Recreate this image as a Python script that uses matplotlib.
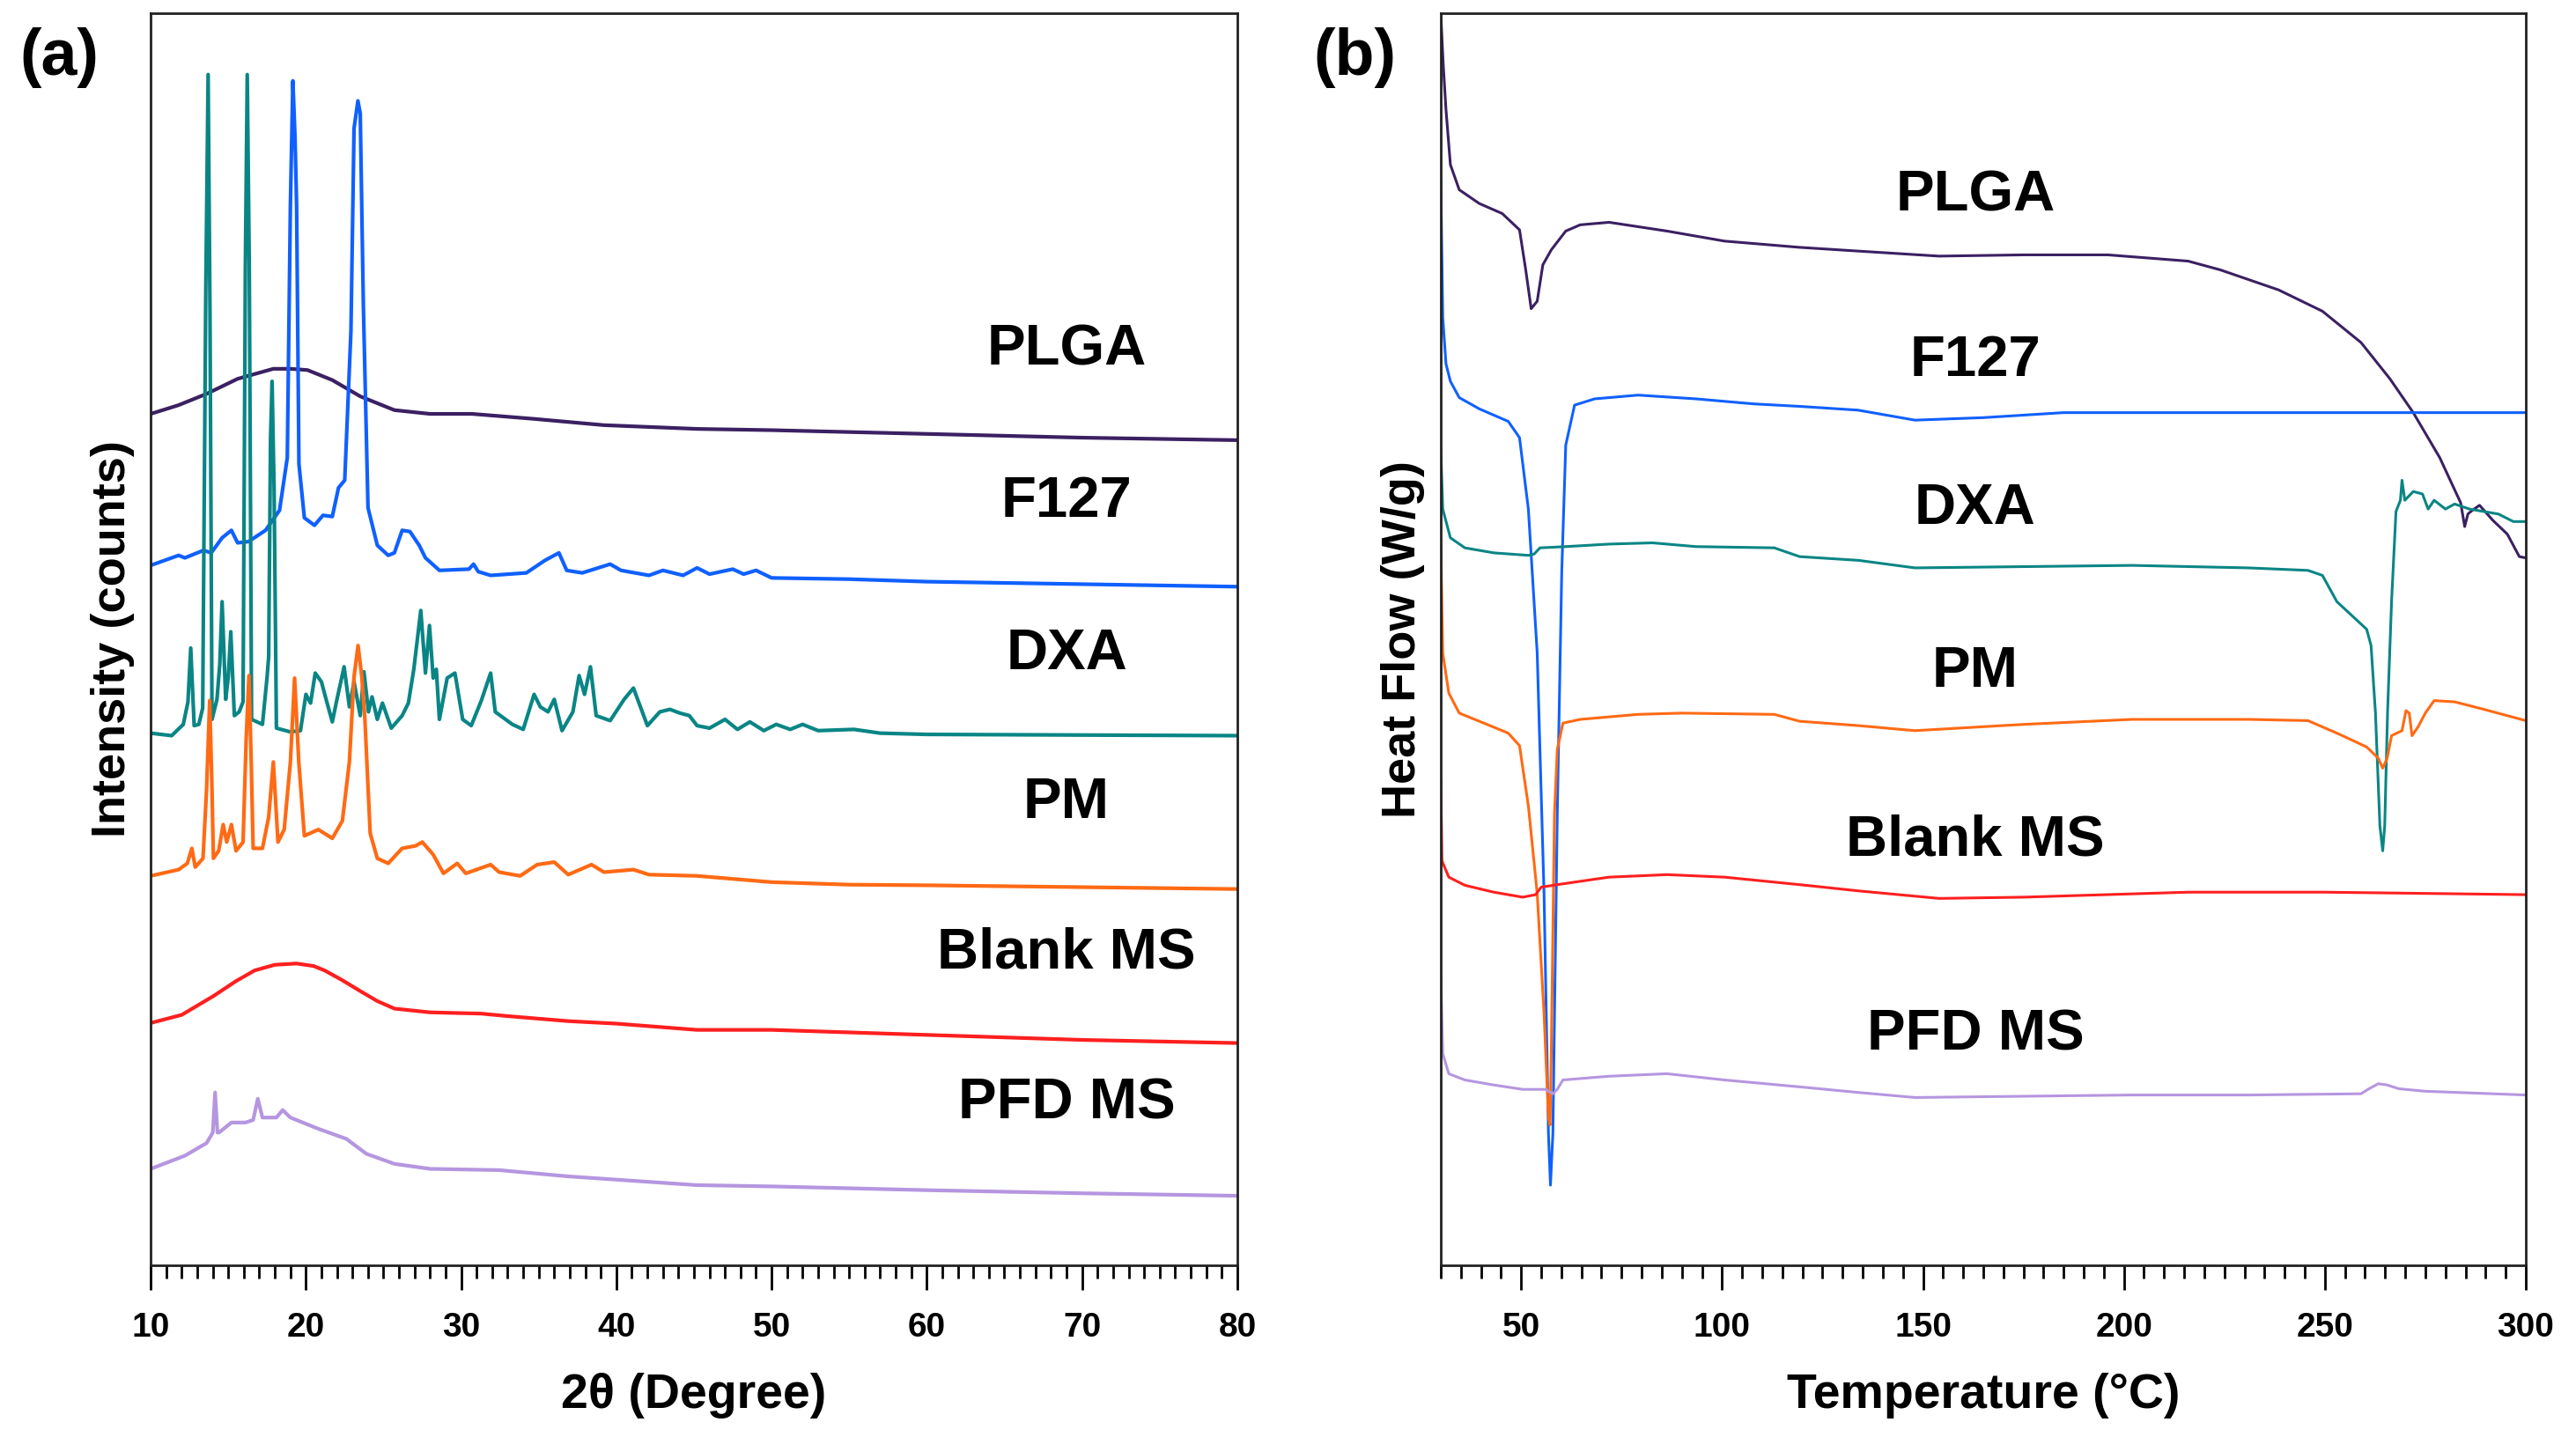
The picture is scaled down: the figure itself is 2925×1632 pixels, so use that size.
import numpy as np
import matplotlib.pyplot as plt
from matplotlib.ticker import MultipleLocator

plt.rcParams['font.family'] = ['Liberation Sans', 'DejaVu Sans']
plt.rcParams['font.weight'] = 'bold'

names = ['PLGA', 'F127', 'DXA', 'PM', 'Blank MS', 'PFD MS']
colors = ['#3b2062', '#1060ff', '#0a8585', '#ff6a14', '#ff1f1f', '#b596e0']

# (a) XRD, 2theta (deg) vs intensity (a.u., stacked as plotted)
xrd_plga = [(10, 680), (11.8, 687), (13.6, 696), (15.6, 708), (17.9, 716), (19.0, 716), (20.1, 715),
            (21.7, 707), (23.5, 694), (25.7, 683), (28.0, 680), (30.7, 680), (34.7, 676), (39.2, 671),
            (45.2, 668), (50, 667), (60, 664), (70, 661), (80, 659)]
xrd_f127 = [(10, 559), (11.8, 567), (12.2, 565), (13.4, 571), (13.9, 569), (14.6, 581), (15.2, 587),
            (15.6, 577), (16.3, 578), (17.4, 587), (18.3, 603), (18.8, 645), (19.0, 847), (19.16, 946),
            (19.3, 900), (19.4, 847), (19.55, 640), (19.9, 597), (20.55, 591), (21.1, 599), (21.7, 598),
            (22.1, 621), (22.5, 627), (22.9, 746), (23.1, 908), (23.35, 930), (23.5, 920), (23.7, 767),
            (24.0, 605), (24.6, 575), (25.3, 567), (25.7, 569), (26.2, 587), (26.7, 586), (27.3, 575),
            (27.7, 565), (28.6, 555), (30.5, 556), (30.8, 560), (31.1, 554), (31.9, 551), (34.2, 553),
            (35.4, 563), (36.3, 569), (36.8, 555), (37.8, 553), (39.6, 560), (40.3, 555), (42.1, 551),
            (43.0, 555), (44.3, 551), (45.2, 557), (46.0, 552), (47.5, 556), (48.2, 552), (49.0, 555),
            (50, 549), (55, 548), (60, 546), (70, 544), (80, 542)]
xrd_dxa = [(10, 425), (11.35, 423), (12.1, 432), (12.4, 450), (12.58, 493), (12.8, 431), (13.1, 432),
           (13.35, 445), (13.55, 780), (13.7, 951), (13.82, 760), (13.95, 436), (14.27, 452), (14.45, 480),
           (14.6, 530), (14.83, 452), (15.0, 470), (15.16, 506), (15.39, 439), (15.7, 442), (15.95, 450),
           (16.1, 800), (16.22, 951), (16.35, 800), (16.5, 436), (17.2, 432), (17.5, 470), (17.6, 486),
           (17.72, 660), (17.82, 706), (17.95, 620), (18.1, 429), (19.0, 426), (19.65, 427), (20.0, 456),
           (20.3, 449), (20.6, 473), (21.0, 466), (21.3, 452), (21.7, 434), (22.0, 452), (22.46, 478),
           (22.8, 446), (23.1, 466), (23.5, 439), (23.74, 474), (24.03, 442), (24.26, 454), (24.6, 436),
           (24.93, 449), (25.5, 429), (26.2, 439), (26.6, 449), (26.95, 476), (27.4, 523), (27.7, 473),
           (27.96, 511), (28.2, 469), (28.4, 476), (28.6, 436), (29.1, 469), (29.6, 473), (30.1, 436),
           (30.65, 431), (31.3, 451), (31.9, 473), (32.2, 442), (33.3, 432), (34.0, 428), (34.7, 456),
           (35.1, 446), (35.6, 442), (36.0, 452), (36.5, 427), (37.2, 442), (37.6, 471), (37.95, 456),
           (38.33, 478), (38.7, 439), (39.6, 435), (40.5, 452), (41.1, 461), (42.0, 431), (42.8, 442),
           (43.45, 444), (44.1, 441), (44.7, 439), (45.2, 431), (46.0, 429), (47.0, 436), (47.8, 428),
           (48.6, 434), (49.5, 427), (50.3, 432), (51.2, 428), (52.0, 432), (53.0, 427), (55.3, 428),
           (57, 425), (60, 424), (70, 423.5), (80, 423)]
xrd_pm = [(10, 311), (11.8, 316), (12.36, 321), (12.65, 333), (12.87, 318), (13.37, 325), (13.6, 380),
          (13.8, 451), (13.95, 380), (14.04, 325), (14.38, 331), (14.67, 352), (14.9, 338), (15.2, 352),
          (15.5, 331), (15.95, 338), (16.15, 420), (16.33, 471), (16.48, 400), (16.6, 333), (17.2, 333),
          (17.6, 358), (17.9, 402), (18.2, 338), (18.6, 348), (19.0, 402), (19.27, 469), (19.54, 402),
          (19.9, 343), (20.8, 348), (21.7, 341), (22.35, 355), (22.8, 402), (23.1, 470), (23.36, 495),
          (23.6, 470), (23.8, 436), (24.14, 345), (24.6, 325), (25.3, 321), (26.2, 333), (27.06, 335),
          (27.5, 338), (28.2, 328), (28.86, 313), (29.75, 321), (30.3, 313), (31.9, 320), (32.45, 314),
          (33.8, 311), (34.9, 320), (36.0, 322), (36.9, 312), (38.4, 320), (39.2, 314), (41.1, 316),
          (42.1, 312), (45.2, 311), (50, 306), (55, 304), (60, 303.5), (70, 302), (80, 300.5)]
xrd_blank = [(10, 193.5), (12, 200), (14.04, 215), (15.5, 227), (16.7, 235.5), (18, 240), (19.4, 241),
             (20.5, 239), (21.2, 235.5), (22.3, 228), (23.5, 219), (24.6, 211), (25.7, 205), (28, 202),
             (31.3, 201), (33, 199), (36.9, 195), (40, 193), (45.2, 188), (50, 188), (60, 184),
             (70, 180), (80, 177.5)]
xrd_pfd = [(10, 77), (12.2, 87.5), (13.6, 97.6), (14.0, 106), (14.15, 138), (14.3, 106), (14.4, 106),
           (15.2, 114), (16.1, 114), (16.6, 116), (16.9, 133), (17.2, 118), (18.1, 118), (18.5, 124),
           (19.0, 118), (20.8, 109), (22.6, 101), (23.9, 89), (25.7, 81), (28, 77), (32.45, 76),
           (36.9, 71), (45.2, 64), (50, 63), (60, 60), (70, 57.5), (80, 55.5)]

# (b) DSC, temperature (C) vs heat flow (a.u., stacked as plotted)
dsc_plga = [(30, 1000), (30.6, 960), (31.3, 923), (32.4, 879), (34.6, 859), (39.6, 848), (45.3, 840),
            (49.6, 827), (51.1, 796), (52.5, 764), (54.0, 770), (55.4, 799), (57.5, 811), (61.1, 826),
            (64.7, 831), (71.9, 833), (86.3, 826), (100.6, 818), (119.3, 813), (134, 810), (154, 806),
            (175, 807), (196, 807), (216, 802), (224, 795), (238.5, 779), (249.4, 762), (259, 737),
            (266.2, 708), (272, 681), (278.6, 645), (283.8, 609), (284.8, 590), (285.6, 600),
            (286.7, 603), (288.5, 607), (291.8, 595), (295.4, 584), (298.4, 566), (300, 565)]
dsc_f127 = [(30, 866), (30.5, 757), (31.3, 720), (32.4, 706), (34.6, 693), (39.6, 684), (46.8, 674),
            (49.6, 661), (51.8, 604), (54.0, 489), (55.7, 297), (56.8, 105), (57.3, 64), (57.9, 105),
            (59.0, 361), (60.1, 553), (61.1, 655), (63.3, 687), (68.3, 692), (79.1, 695), (93.5, 692),
            (107.8, 688), (119.3, 686), (133.8, 683), (148, 675), (165, 677), (185, 681), (202, 681),
            (250, 681), (300, 681)]
dsc_dxa = [(30, 652), (30.5, 604), (32.4, 581), (36, 573), (43.2, 569), (51.8, 567), (53.2, 568),
           (54.7, 573), (61.1, 574), (71.9, 576), (82.7, 577), (93.5, 574), (113, 573), (119.3, 566),
           (134, 563), (148, 557), (175, 558), (202, 559), (231, 557), (245.8, 555), (249.4, 551),
           (253, 530), (260.4, 508), (261.5, 495), (262.6, 441), (263.7, 351), (264.4, 331),
           (264.9, 351), (265.6, 441), (266.6, 530), (267.7, 602), (268.8, 611), (269.2, 627),
           (269.9, 611), (272, 618), (274.3, 616), (275.7, 604), (277.2, 611), (280, 604), (282.3, 608),
           (286, 604), (289.6, 602), (293.2, 600), (296.9, 594), (300, 594)]
dsc_pm = [(30, 578), (30.5, 489), (32, 457), (34.6, 441), (39.6, 434.5), (46.8, 425), (49.6, 415),
          (51.8, 367), (54.0, 297), (55.7, 201), (56.8, 118), (57.2, 112), (57.5, 169), (58.3, 361),
          (59.0, 412), (60.4, 433), (64.7, 436), (79.1, 440), (89.9, 441), (113, 440), (119.3, 434.5),
          (134, 431), (148, 427), (175, 432), (202, 436), (231, 436), (245.8, 435), (253, 425),
          (260.4, 414), (263.3, 405), (264.4, 397), (265.5, 405), (266.6, 423), (269.2, 427),
          (270.2, 443), (271, 441), (271.7, 423), (273.2, 430), (275, 441), (277.2, 451), (282.3, 450),
          (289.6, 444), (300, 435)]
dsc_blank = [(30, 387), (30.3, 323), (32, 310), (36, 303.5), (43.2, 298), (50.4, 294), (53.6, 296),
             (55.0, 302), (61.1, 305), (71.9, 310), (86.3, 312), (100.6, 310), (119.3, 304), (134, 299),
             (154, 293), (175, 294), (216, 298), (250, 298), (300, 296)]
dsc_pfd = [(30, 233), (30.5, 169), (32, 153), (36, 148), (43.2, 144), (50.4, 140.5), (56.1, 140.5),
           (57.9, 137), (59, 140.5), (60.4, 148), (71.9, 151), (86.3, 153), (100.6, 148), (119.3, 142.5),
           (134, 138), (148, 134), (175, 135), (202, 136), (231, 136), (259, 137), (261, 141),
           (263.3, 145), (265.5, 144), (268.4, 141), (275, 139), (300, 136)]

xrd = [xrd_plga, xrd_f127, xrd_dxa, xrd_pm, xrd_blank, xrd_pfd]
dsc = [dsc_plga, dsc_f127, dsc_dxa, dsc_pm, dsc_blank, dsc_pfd]

# where the sample names sit (data coords)
xrd_label_pos = [(69, 731), (69, 610), (69, 488), (69, 369), (69, 249), (69, 129)]
dsc_label_pos = [(163, 854), (163, 722), (163, 604), (163, 474), (163, 339), (163, 184)]

fig = plt.figure(figsize=(29.25, 16.32), dpi=100)
ax1 = fig.add_axes([0.0585, 0.1195, 0.4218, 0.8713])
ax2 = fig.add_axes([0.5593, 0.1195, 0.4212, 0.8713])

for i in range(6):
    x, y = np.array(xrd[i]).T
    ax1.plot(x, y, color=colors[i], lw=3.0)
    ax1.text(*xrd_label_pos[i], names[i], ha='center', va='center', fontsize=47, fontweight='bold')
    x, y = np.array(dsc[i]).T
    ax2.plot(x, y, color=colors[i], lw=2.2)
    ax2.text(*dsc_label_pos[i], names[i], ha='center', va='center', fontsize=47, fontweight='bold')

ax1.set_xlim(10, 80)
ax1.xaxis.set_major_locator(MultipleLocator(10))
ax1.xaxis.set_minor_locator(MultipleLocator(1))
ax1.set_xlabel('2θ (Degree)', fontsize=40, fontweight='bold', labelpad=24)
ax1.set_ylabel('Intensity (counts)', fontsize=39, fontweight='bold', labelpad=13)

ax2.set_xlim(30, 300)
ax2.xaxis.set_major_locator(MultipleLocator(50))
ax2.xaxis.set_minor_locator(MultipleLocator(5))
ax2.set_xticks([50, 100, 150, 200, 250, 300])
ax2.set_xlabel('Temperature (°C)', fontsize=40, fontweight='bold', labelpad=24)
ax2.set_ylabel('Heat Flow (W/g)', fontsize=39, fontweight='bold', labelpad=13)

for ax in (ax1, ax2):
    ax.set_ylim(0, 1000)
    ax.set_yticks([])
    ax.tick_params(axis='x', which='major', direction='out', length=20, width=2, pad=18, labelsize=28)
    ax.tick_params(axis='x', which='minor', direction='out', length=11, width=2)
    for s in ax.spines.values():
        s.set_linewidth(2)
        s.set_color('#222222')

fig.text(0.0229, 0.9596, '(a)', fontsize=53, fontweight='bold', ha='center', va='center')
fig.text(0.526, 0.9596, '(b)', fontsize=53, fontweight='bold', ha='center', va='center')

plt.savefig('out.png', dpi=100)
